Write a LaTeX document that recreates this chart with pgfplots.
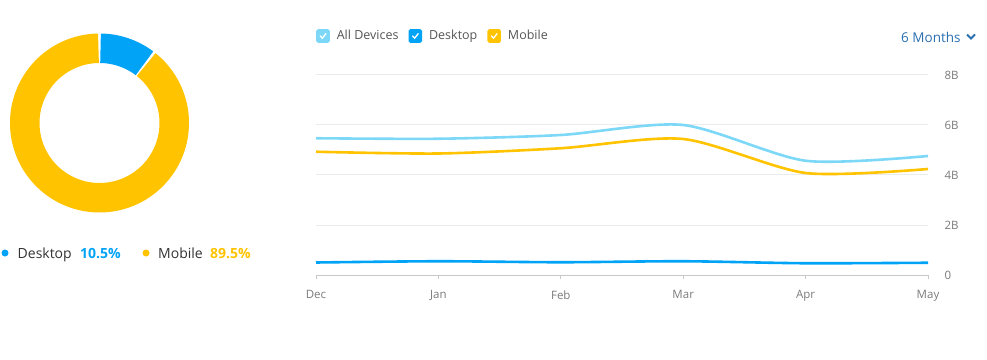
\documentclass[border=0pt]{standalone}
\usepackage{pgfplots}
\usepackage{pgfplotstable}
\pgfplotsset{compat=1.18}
\usepackage{fontspec}
\setmainfont{Open Sans}
\definecolor{alldev}{HTML}{7DD8F8}
\definecolor{desk}{HTML}{00A3F5}
\definecolor{mob}{HTML}{FFC300}
\definecolor{txt}{HTML}{555555}
\definecolor{dark}{HTML}{333333}
\definecolor{tickc}{HTML}{7A7A7A}
\definecolor{gridc}{HTML}{EBEBEB}
\definecolor{axc}{HTML}{C8C8C8}
\definecolor{linkc}{HTML}{2A6FB0}

% monthly visits, billions
\pgfplotstableread{
m all desk mob
0 5.47 0.50 4.93
1 5.45 0.55 4.86
2 5.60 0.51 5.07
3 6.00 0.55 5.44
4 4.57 0.47 4.08
5 4.76 0.49 4.24
}\traffic

% device share, percent
\def\deskpct{10.5}
\def\mobpct{89.5}

\begin{document}
\begin{tikzpicture}
\useasboundingbox (0,0) rectangle (987pt,359pt);

% ---------- donut ----------
\pgfmathsetmacro\da{90-0.8}
\pgfmathsetmacro\db{90-3.6*\deskpct+0.8}
\pgfmathsetmacro\ma{90-3.6*\deskpct-0.8}
\pgfmathsetmacro\mb{90-3.6*(\deskpct+\mobpct)+0.8}
\begin{axis}[at={(99.5pt,236pt)}, anchor=center, x=1pt, y=1pt,
  xmin=-100, xmax=100, ymin=-100, ymax=100, hide axis, scale only axis, clip=false]
\addplot[draw=desk, line width=29.5pt, domain=\da:\db, samples=40] ({74.75*cos(x)},{74.75*sin(x)});
\addplot[draw=mob, line width=29.5pt, domain=\ma:\mb, samples=200] ({74.75*cos(x)},{74.75*sin(x)});
\end{axis}

\fill[desk] (5pt,106pt) circle (3.5pt);
\node[anchor=base west, inner sep=0, text=dark, font=\fontsize{14}{16}\selectfont] at (17.5pt,101pt) {Desktop};
\node[anchor=base west, inner sep=0, text=desk, font=\fontsize{14}{16}\selectfont\bfseries] at (80pt,101pt) {\deskpct\%};
\fill[mob] (146pt,106pt) circle (3.5pt);
\node[anchor=base west, inner sep=0, text=dark, font=\fontsize{14}{16}\selectfont] at (158pt,101pt) {Mobile};
\node[anchor=base west, inner sep=0, text=mob, font=\fontsize{14}{16}\selectfont\bfseries] at (210pt,101pt) {\mobpct\%};

% ---------- line chart ----------
\begin{axis}[at={(316pt,84pt)}, anchor=south west, width=612pt, height=200pt, scale only axis,
  xmin=0, xmax=5, ymin=0, ymax=8, clip=false,
  axis x line*=bottom, axis y line*=right,
  y axis line style={draw=none}, x axis line style={axc, line width=1pt, -},
  xtick={0,1,2,3,4,5}, xticklabels={Dec,Jan,Feb,Mar,Apr,May},
  ytick={0,2,4,6,8}, yticklabels={0,2B,4B,6B,8B},
  ymajorgrids, major grid style={gridc, line width=1pt},
  ytick style={draw=none}, xtick style={axc, line width=1pt},
  tick align=outside, major tick length=4pt,
  ticklabel style={text=tickc, font=\fontsize{11.5}{13}\selectfont},
  xticklabel style={yshift=-8pt},
  yticklabel style={anchor=west, xshift=9pt, yshift=-0.5pt},
  legend columns=3,
  legend style={at={(0,1.195)}, anchor=west, draw=none, fill=none, inner sep=0pt,
    font=\fontsize{12.5}{14}\selectfont, text=txt,
    /tikz/every odd column/.append style={column sep=5pt},
    /tikz/every even column/.append style={column sep=8pt}},
]
\addplot[alldev, line width=2.6pt, smooth, tension=0.45,
  legend image code/.code={\fill[alldev, rounded corners=1pt] (0pt,-5.5pt) rectangle (11pt,5.5pt);
   \draw[white, line width=1.3pt] (2.5pt,0.3pt) -- (4.8pt,-2.2pt) -- (8.6pt,2.6pt);}]
  table[x=m, y=all] {\traffic};
\addlegendentry{All Devices}
\addplot[desk, line width=2.6pt, smooth, tension=0.45,
  legend image code/.code={\fill[desk, rounded corners=1pt] (0pt,-5.5pt) rectangle (11pt,5.5pt);
   \draw[white, line width=1.3pt] (2.5pt,0.3pt) -- (4.8pt,-2.2pt) -- (8.6pt,2.6pt);}]
  table[x=m, y=desk] {\traffic};
\addlegendentry{Desktop}
\addplot[mob, line width=2.6pt, smooth, tension=0.45,
  legend image code/.code={\fill[mob, rounded corners=1pt] (0pt,-5.5pt) rectangle (11pt,5.5pt);
   \draw[white, line width=1.3pt] (2.5pt,0.3pt) -- (4.8pt,-2.2pt) -- (8.6pt,2.6pt);}]
  table[x=m, y=mob] {\traffic};
\addlegendentry{Mobile}
\end{axis}

\node[anchor=west, inner sep=0, text=linkc, font=\fontsize{13.5}{16}\selectfont] at (901pt,322pt) {6 Months};
\draw[linkc, line width=1.8pt] (967pt,324.5pt) -- (971pt,320.5pt) -- (975pt,324.5pt);
\end{tikzpicture}
\end{document}
